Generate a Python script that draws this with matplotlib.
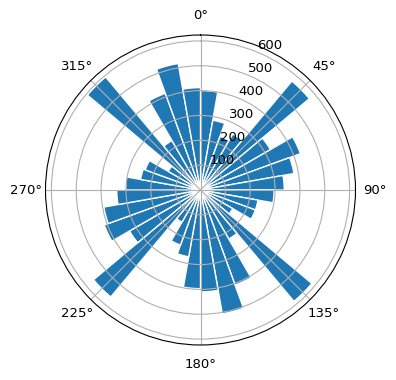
import numpy as np
import matplotlib
matplotlib.use("Agg")
import matplotlib.pyplot as plt

# direction bins (degrees, bar centres) and counts
directions = list(range(5, 360, 10))
counts = [400, 285, 230, 260, 572, 325, 428, 382, 337,
          296, 235, 235, 150, 585, 228, 407, 506, 410,
          397, 273, 236, 150, 562, 330, 412, 395, 337,
          301, 245, 237, 150, 594, 230, 414, 517, 412]

plt.rcParams['font.size'] = 9.5

fig = plt.figure(figsize=(3.96, 3.8), dpi=100)
ax = fig.add_axes([(200.5 - 155) / 396, (380 - 190 - 155) / 380, 310 / 396, 310 / 380],
                  projection='polar')
ax.set_theta_zero_location('N')
ax.set_theta_direction(-1)

theta = np.deg2rad(directions)
ax.bar(theta, counts, width=np.deg2rad(10), bottom=0.0,
       color='#1f77b4', edgecolor='white', linewidth=1)

fig.savefig('out.png', dpi=100)
